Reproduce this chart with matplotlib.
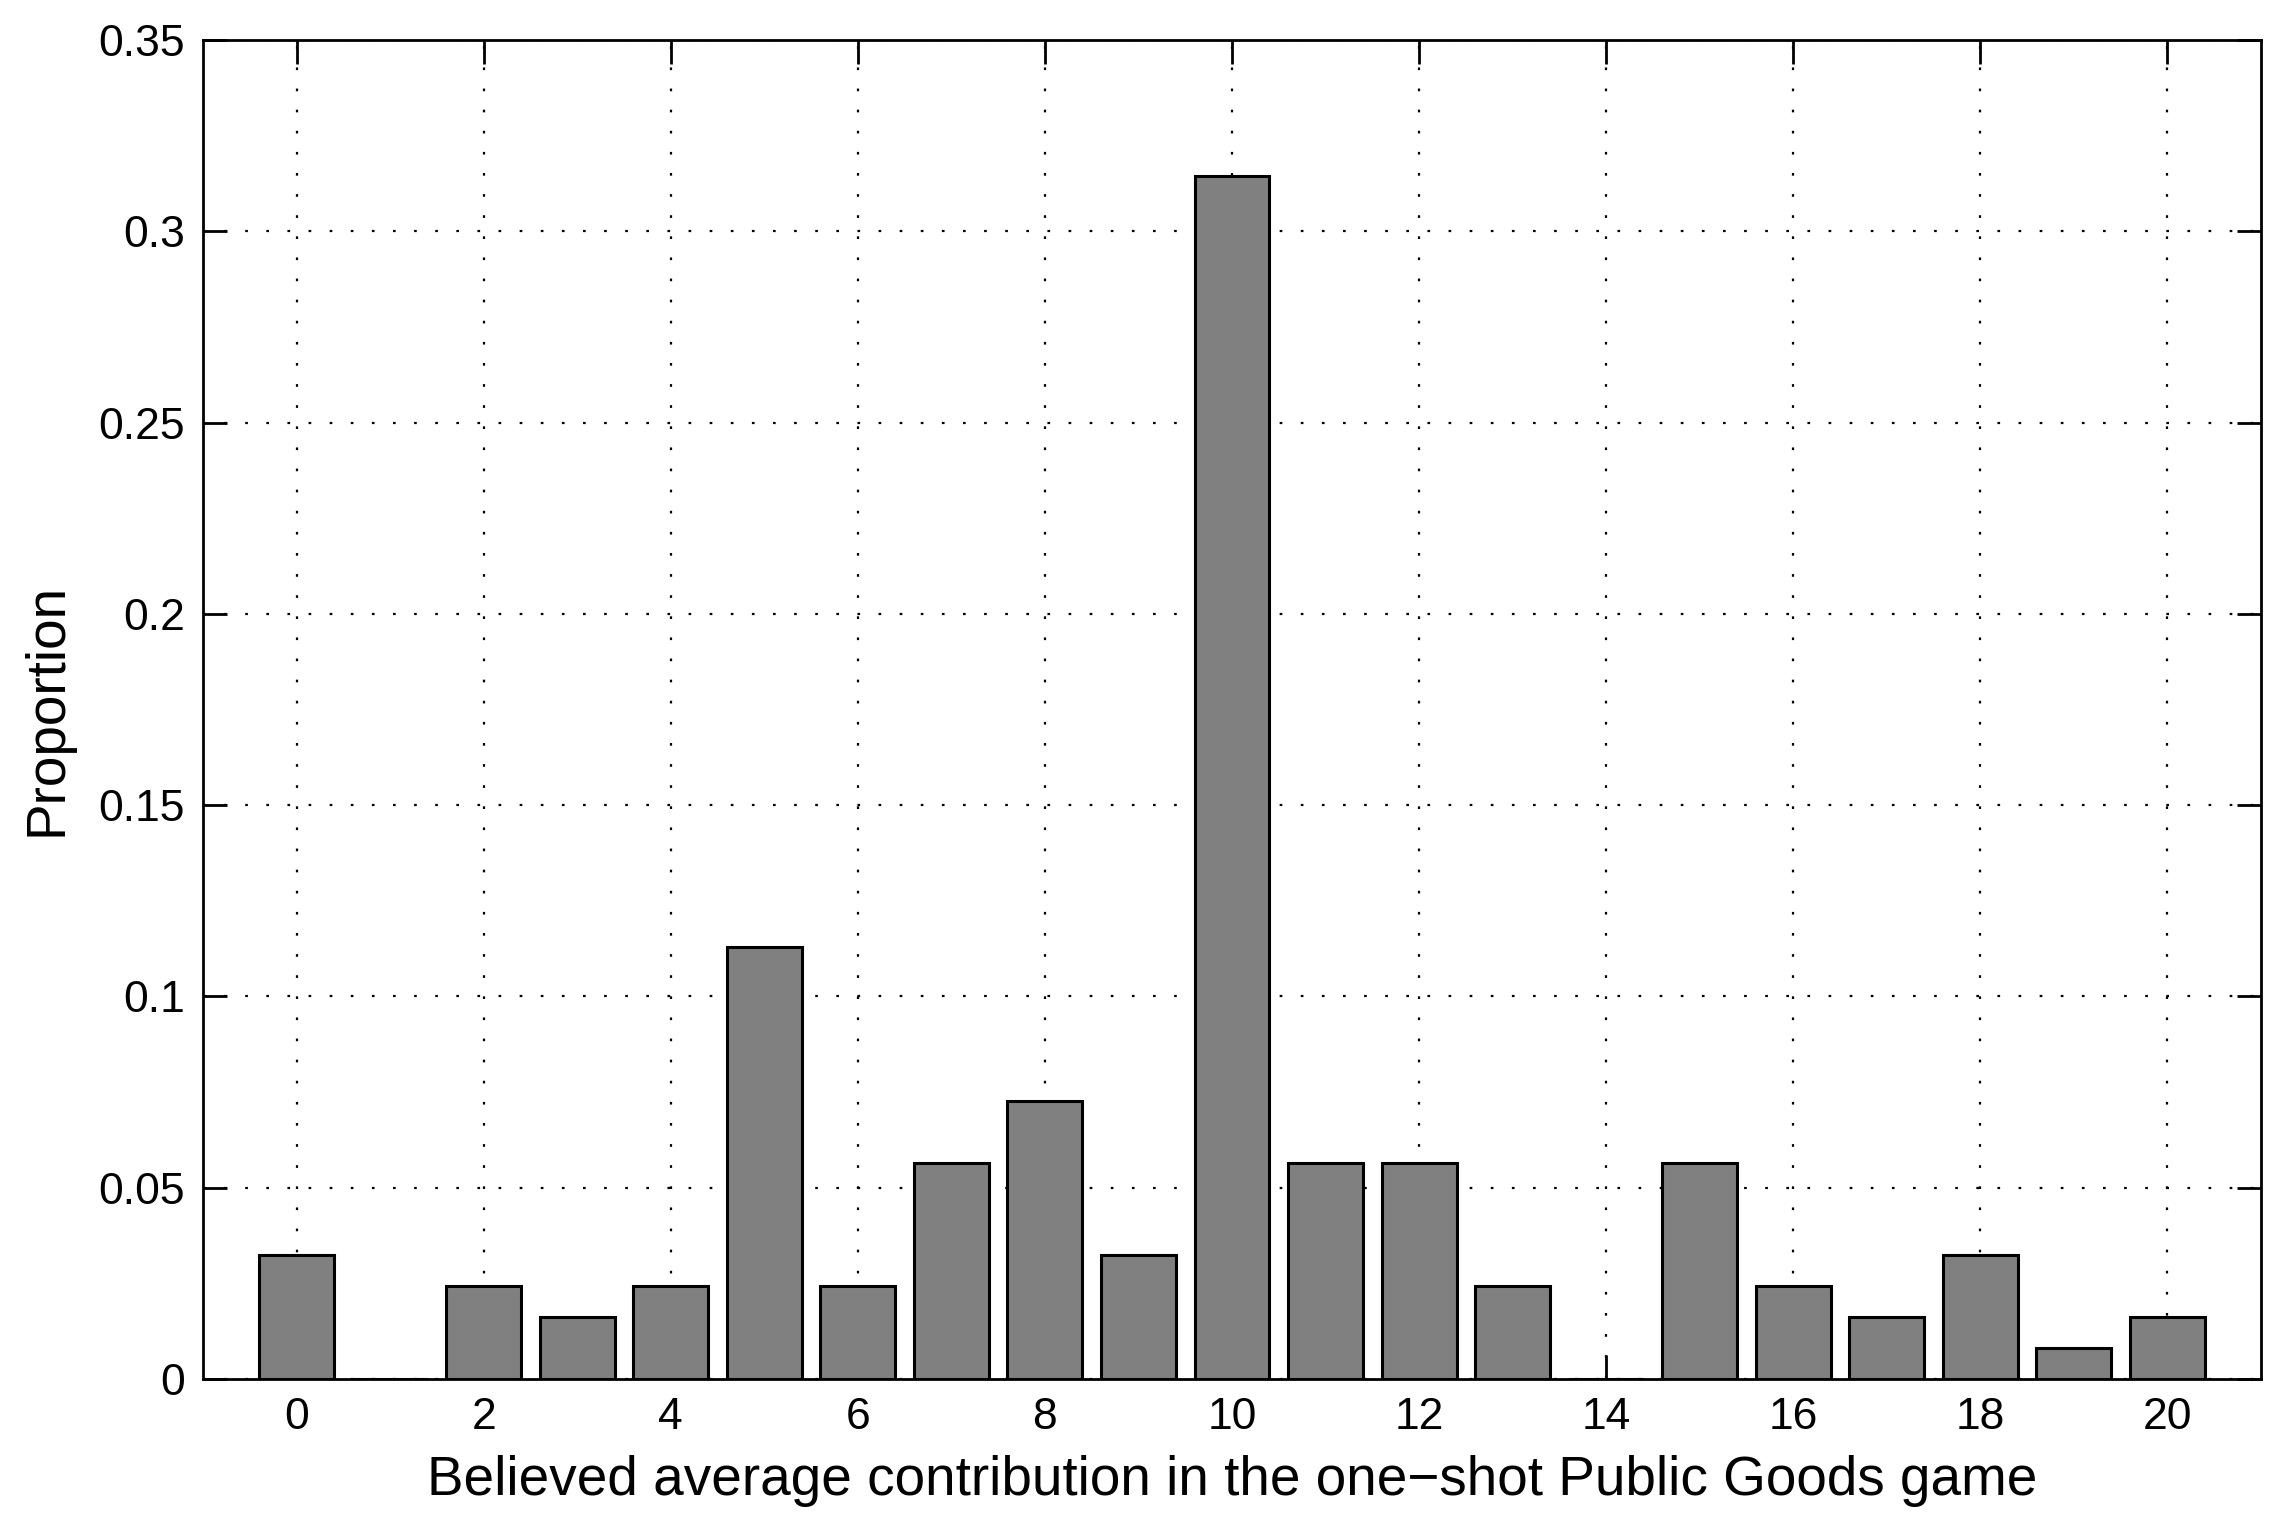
import matplotlib
matplotlib.use("Agg")
import matplotlib.pyplot as plt
import numpy as np

contribution = list(range(0, 21))
proportion = [0.0323, 0.0, 0.0242, 0.0161, 0.0242, 0.1129, 0.0242, 0.0565,
              0.0726, 0.0323, 0.3145, 0.0565, 0.0565, 0.0242, 0.0, 0.0565,
              0.0242, 0.0161, 0.0323, 0.0081, 0.0161]
xticks = [0, 2, 4, 6, 8, 10, 12, 14, 16, 18, 20]
yticks = [0, 0.05, 0.1, 0.15, 0.2, 0.25, 0.3, 0.35]
ytick_labels = ["0", "0.05", "0.1", "0.15", "0.2", "0.25", "0.3", "0.35"]

plt.rcParams['font.family'] = ['Liberation Sans', 'DejaVu Sans']

fig = plt.figure(figsize=(22.86, 15.31), dpi=100)
ax = fig.add_axes([203/2286, 1 - 1379/1531, (2261-203)/2286, (1379-40)/1531])

ax.bar(contribution, proportion, width=0.8, color='#808080', edgecolor='black',
       linewidth=2.2, zorder=3)

ax.set_xlim(-1, 21)
ax.set_ylim(0, 0.35)
ax.set_xticks(xticks)
ax.set_xticklabels([str(t) for t in xticks])
ax.set_yticks(yticks)
ax.set_yticklabels(ytick_labels)

ax.grid(True, color='black', linestyle=(0, (1.2, 8.3)), linewidth=1.6, zorder=1)
ax.set_axisbelow(True)

ax.tick_params(direction='in', length=17, width=2.0, labelsize=32,
               top=True, right=True, pad=13, colors='black')
for s in ax.spines.values():
    s.set_linewidth(2.0)
    s.set_zorder(5)

ax.set_xlabel("Believed average contribution in the one\u2212shot Public Goods game",
              fontsize=39.5, labelpad=12)
ax.set_ylabel("Proportion", fontsize=39.5, labelpad=18)

fig.savefig("out.png", dpi=100)
